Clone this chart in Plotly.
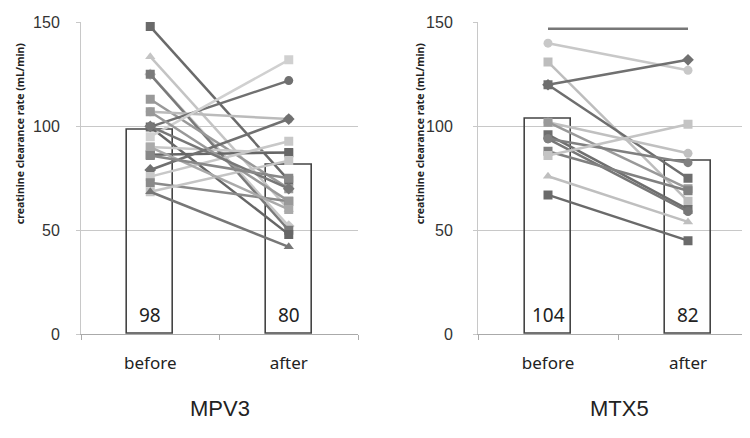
import plotly.graph_objects as go

categories = ["before", "after"]

# MPV3: creatinine clearance per patient (mL/min)
mpv3_before = [148, 133.5, 125, 125, 113, 107, 99.7, 99.7, 95, 90,
               86.3, 79, 75.8, 72.8, 68.5, 68.5, 107, 100, 90, 86]
mpv3_after = [74, 60, 52, 50, 70, 103.5, 122, 48, 132, 87,
              87.4, 103.5, 92.8, 64, 83.5, 42, 64, 70, 60, 75]
mpv3_mean = [98.4, 81.5]
mpv3_mean_labels = ["98", "80"]

# MTX5
mtx5_before = [140, 131, 120, 120, 102, 102, 96, 94, 94, 88, 86, 76, 67]
mtx5_after = [127, 64, 132, 75, 87, 70, 60, 59, 82.5, 69, 101, 54, 45]
mtx5_mean = [103.5, 83.5]
mtx5_mean_labels = ["104", "82"]
mtx5_bracket = 147

# styles (grey shade, marker symbol) for each patient line
mpv3_style = [("#6a6a6a", "square"), ("#c4c4c4", "triangle-up"), ("#c8c8c8", "diamond"),
              ("#7a7a7a", "square"), ("#999999", "square"), ("#bbbbbb", "circle"),
              ("#707070", "circle"), ("#666666", "square"), ("#d0d0d0", "square"),
              ("#c8c8c8", "square"), ("#666666", "square"), ("#707070", "diamond"),
              ("#c8c8c8", "square"), ("#8a8a8a", "square"), ("#c4c4c4", "square"),
              ("#777777", "triangle-up"), ("#999999", "square"), ("#777777", "diamond"),
              ("#aaaaaa", "square"), ("#888888", "square")]
mtx5_style = [("#c8c8c8", "circle"), ("#bdbdbd", "square"), ("#707070", "diamond"),
              ("#6e6e6e", "square"), ("#c0c0c0", "circle"), ("#999999", "square"),
              ("#6e6e6e", "square"), ("#777777", "circle"), ("#808080", "circle"),
              ("#808080", "square"), ("#c4c4c4", "square"), ("#bfbfbf", "triangle-up"),
              ("#6a6a6a", "square")]

fig = go.Figure()


def add_panel(before, after, mean, labels, styles, xa, ya):
    fig.add_trace(go.Bar(x=categories, y=mean, width=0.33, xaxis=xa, yaxis=ya,
                         marker=dict(color="rgba(0,0,0,0)", line=dict(color="#444", width=1.6)),
                         showlegend=False, hoverinfo="skip"))
    for b, a, (c, s) in zip(before, after, styles):
        fig.add_trace(go.Scatter(x=categories, y=[b, a], mode="lines+markers", xaxis=xa, yaxis=ya,
                                 line=dict(color=c, width=2.5),
                                 marker=dict(color=c, symbol=s, size=9),
                                 showlegend=False))
    for cat, m, t in zip(categories, mean, labels):
        fig.add_annotation(x=cat, y=0, xref=xa, yref=ya, text=t, showarrow=False,
                           yanchor="bottom", yshift=4,
                           font=dict(family="Noto Sans", size=19, color="#222"))


add_panel(mpv3_before, mpv3_after, mpv3_mean, mpv3_mean_labels, mpv3_style, "x", "y")
add_panel(mtx5_before, mtx5_after, mtx5_mean, mtx5_mean_labels, mtx5_style, "x2", "y2")

fig.add_trace(go.Scatter(x=categories, y=[mtx5_bracket, mtx5_bracket], mode="lines",
                         xaxis="x2", yaxis="y2", line=dict(color="#777", width=2.5),
                         showlegend=False, hoverinfo="skip"))

xax = dict(type="category", range=[-0.5, 1.5], showgrid=False, showline=True,
           linecolor="#aaaaaa", ticks="outside", tickson="boundaries", ticklen=5,
           tickcolor="#aaaaaa", ticklabelstandoff=13,
           tickfont=dict(family="Noto Sans", size=17, color="#222"))
yax = dict(range=[0, 150.3], tickvals=[0, 50, 100, 150], showgrid=True, gridcolor="#c8c8c8",
           showline=True, linecolor="#c8c8c8", ticks="outside", ticklen=4, tickcolor="#c8c8c8",
           zeroline=False, ticklabeloverflow="allow",
           tickfont=dict(family="Liberation Sans", size=16, color="#333"))

fig.update_layout(
    width=750, height=438, margin=dict(l=0, r=0, t=0, b=0),
    plot_bgcolor="white", paper_bgcolor="white", bargap=0,
    xaxis=dict(xax, domain=[73 / 750, 350 / 750], anchor="y"),
    xaxis2=dict(xax, domain=[470 / 750, 1.0], anchor="y2"),
    yaxis=dict(yax, domain=[1 - 331 / 438, 1 - 6 / 438], anchor="x", ticklabelstandoff=13),
    yaxis2=dict(yax, domain=[1 - 331 / 438, 1 - 6 / 438], anchor="x2", ticklabelstandoff=17),
)

# y-axis titles
for xp in [12 / 750, 412 / 750]:
    fig.add_annotation(x=xp, y=1 - 122 / 438, xref="paper", yref="paper", showarrow=False,
                       xanchor="center", yanchor="middle",
                       text="<b>creatinine clearance rate (mL/min)</b>", textangle=-90,
                       font=dict(family="Noto Sans", size=10.5, color="#222"))

# panel titles
for xp, t in [(212 / 750, "MPV3"), (611 / 750, "MTX5")]:
    fig.add_annotation(x=xp, y=1 - 408 / 438, xref="paper", yref="paper", showarrow=False,
                       xanchor="center", yanchor="middle",
                       text=t, font=dict(family="Liberation Sans", size=22, color="#222"))

fig.write_html("out.html")
